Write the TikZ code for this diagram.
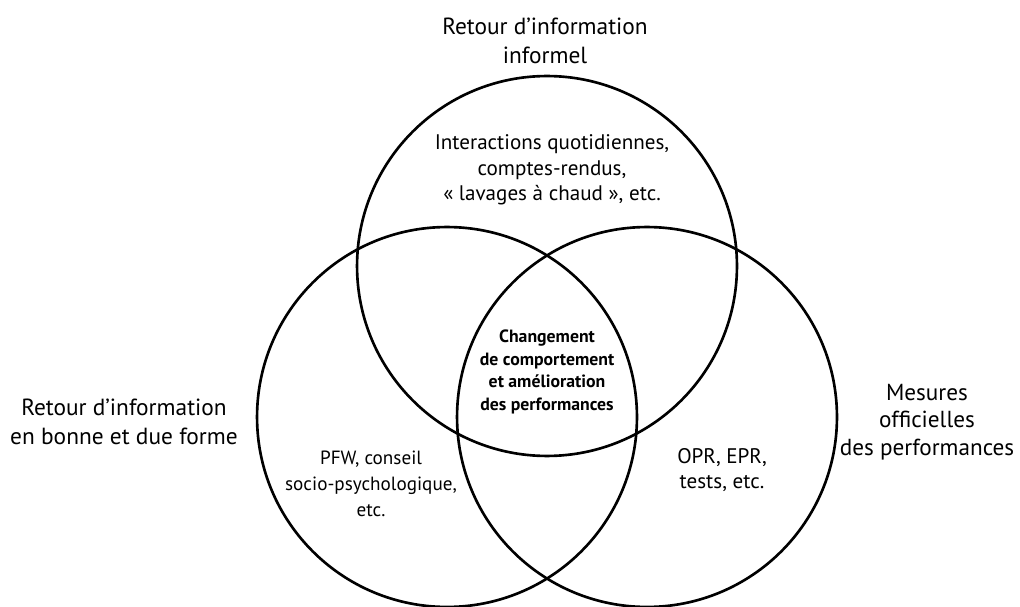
\documentclass[tikz,border=0pt]{standalone}
\usepackage{fontspec}
\setmainfont{PT Sans}
\usepackage{tikz}

\begin{document}
\begin{tikzpicture}[x=0.02cm,y=-0.02cm,
        ensemble/.style={circle,draw,line width=1.5pt,minimum size=7.6cm,inner sep=0pt},
        titre/.style={align=center,font=\fontsize{13.3}{16.8}\selectfont},
        exemple/.style={align=center,font=\fontsize{12}{14.4}\selectfont},
        coeur/.style={align=center,font=\fontsize{10.1}{12.8}\selectfont\bfseries}]
                \useasboundingbox (0,0) rectangle (1020,607);
                \node[ensemble] (informel) at (547,266) {};
                \node[ensemble] (forme) at (447,417) {};
                \node[ensemble] (mesures) at (647,417) {};
                \node[titre] (t-informel) at (545,41) {Retour d’information\\informel};
                \node[titre] (t-forme) at (124,422) {Retour d’information\\en bonne et due forme};
                \node[titre,font=\fontsize{13.2}{15.6}\selectfont] (t-mesures) at (927,422) {Mesures\\officielles\\des performances};
                \node[exemple] (e-informel) at (552,170) {Interactions quotidiennes,\\comptes-rendus,\\«~lavages à chaud~», etc.};
                \node[exemple,font=\fontsize{10.9}{14.8}\selectfont] (e-forme) at (371,484) {PFW, conseil\\socio-psychologique,\\etc.};
                \node[exemple] (e-mesures) at (722,470) {OPR, EPR,\\tests, etc.};
                \node[coeur] (changement) at (547,372) {Changement\\de comportement\\et amélioration\\des performances};
            \end{tikzpicture}
\end{document}
